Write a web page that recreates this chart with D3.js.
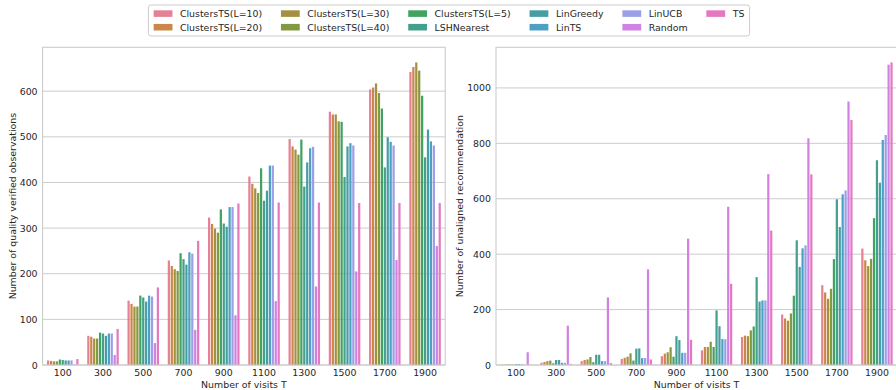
<!DOCTYPE html>
<html>
<head>
<meta charset="utf-8">
<script src="https://cdn.jsdelivr.net/npm/d3@7"></script>
<style>
  html, body { margin: 0; padding: 0; background: #ffffff; }
  svg text { font-family: "DejaVu Sans", sans-serif; fill: #262626; }
</style>
</head>
<body>
<svg id="chart" width="896" height="390"></svg>
<script>
// ---- categories and series ----
const visits = [100, 300, 500, 700, 900, 1100, 1300, 1500, 1700, 1900];
const seriesNames = [
  "ClustersTS(L=10)", "ClustersTS(L=20)", "ClustersTS(L=30)", "ClustersTS(L=40)",
  "ClustersTS(L=5)", "LSHNearest", "LinGreedy", "LinTS", "LinUCB", "Random", "TS"
];

// Number of quality verified observations, one array per method
const verifiedL10    = [10, 64, 141, 229, 323, 413, 495, 555, 604, 642];
const verifiedL20    = [9, 62, 134, 217, 309, 397, 479, 549, 608, 653];
const verifiedL30    = [8, 58, 128, 210, 299, 387, 472, 549, 617, 663];
const verifiedL40    = [8, 58, 128, 206, 290, 377, 461, 534, 596, 645];
const verifiedL5     = [12, 71, 152, 245, 341, 431, 494, 533, 562, 590];
const verifiedLSH    = [11, 69, 148, 232, 310, 360, 391, 412, 433, 455];
const verifiedGreedy = [10, 64, 139, 220, 303, 382, 444, 479, 499, 516];
const verifiedLinTS  = [10, 69, 152, 247, 346, 437, 475, 486, 489, 490];
const verifiedLinUCB = [10, 69, 150, 244, 346, 437, 478, 481, 481, 481];
const verifiedRandom = [1, 22, 48, 77, 109, 140, 172, 205, 230, 261];
const verifiedTS     = [13, 79, 170, 272, 354, 356, 356, 355, 355, 355];

// Number of unaligned recommendations, one array per method
const unalignedL10    = [1, 8, 14, 22, 32, 53, 101, 182, 288, 420];
const unalignedL20    = [1, 11, 18, 26, 41, 65, 106, 168, 262, 378];
const unalignedL30    = [2, 14, 20, 30, 46, 65, 104, 160, 239, 357];
const unalignedL40    = [2, 16, 29, 42, 64, 84, 125, 186, 275, 383];
const unalignedL5     = [1, 6, 10, 16, 30, 65, 139, 250, 382, 530];
const unalignedLSH    = [3, 18, 37, 59, 104, 197, 317, 450, 598, 739];
const unalignedGreedy = [3, 18, 37, 60, 90, 140, 229, 354, 498, 658];
const unalignedLinTS  = [2, 8, 14, 25, 44, 94, 233, 421, 616, 812];
const unalignedLinUCB = [1, 8, 14, 25, 44, 93, 233, 432, 630, 830];
const unalignedRandom = [46, 142, 244, 345, 456, 571, 689, 818, 951, 1084];
const unalignedTS     = [1, 4, 7, 20, 91, 293, 485, 688, 884, 1092];

const verifiedTicks  = [0, 100, 200, 300, 400, 500, 600];
const unalignedTicks = [0, 200, 400, 600, 800, 1000];

const verifiedSeries = [verifiedL10, verifiedL20, verifiedL30, verifiedL40, verifiedL5,
  verifiedLSH, verifiedGreedy, verifiedLinTS, verifiedLinUCB, verifiedRandom, verifiedTS];
const unalignedSeries = [unalignedL10, unalignedL20, unalignedL30, unalignedL40, unalignedL5,
  unalignedLSH, unalignedGreedy, unalignedLinTS, unalignedLinUCB, unalignedRandom, unalignedTS];

// ---- HUSL palette (seaborn "husl"), desaturated like seaborn bars ----
function huslToRgb(H, S, L) {
  const m = [[3.2406, -1.5372, -0.4986], [-0.9689, 1.8758, 0.0415], [0.0557, -0.2040, 1.0570]];
  const refU = 0.19784, refV = 0.46834, eps = 0.008856, kappa = 903.3;
  const hr = H * Math.PI / 180, sinH = Math.sin(hr), cosH = Math.cos(hr);
  const sub1 = Math.pow(L + 16, 3) / 1560896;
  const sub2 = sub1 > eps ? sub1 : L / kappa;
  let maxC = Infinity;
  for (const [m1, m2, m3] of m) {
    const top = (0.99915 * m1 + 1.05122 * m2 + 1.14460 * m3) * sub2;
    const rb = 0.86330 * m3 - 0.17266 * m2;
    const lb = 0.12949 * m3 - 0.38848 * m1;
    const bottom = (rb * sinH + lb * cosH) * sub2;
    for (const t of [0, 1]) {
      const C = L * (top - 1.05122 * t) / (bottom + 0.17266 * sinH * t);
      if (C > 0 && C < maxC) maxC = C;
    }
  }
  const C = maxC / 100 * S;
  const U = cosH * C, V = sinH * C;
  const t = (L + 16) / 116;
  const Y = Math.pow(t, 3) > eps ? Math.pow(t, 3) : (116 * t - 16) / kappa;
  const vU = U / (13 * L) + refU, vV = V / (13 * L) + refV;
  const X = -(9 * Y * vU) / ((vU - 4) * vV - vU * vV);
  const Z = (9 * Y - 15 * vV * Y - vV * X) / (3 * vV);
  const fromLinear = c => c <= 0.0031308 ? 12.92 * c : 1.055 * Math.pow(c, 1 / 2.4) - 0.055;
  return m.map(r => Math.max(0, Math.min(1, fromLinear(r[0] * X + r[1] * Y + r[2] * Z))));
}
function huslPalette(n) {
  return d3.range(n).map(i => {
    const h = ((i / n + 0.01) % 1) * 359;
    const [r, g, b] = huslToRgb(h, 0.9 * 99, 0.65 * 99);
    const c = d3.hsl(d3.rgb(r * 255, g * 255, b * 255));
    c.s *= 0.75;
    return c.formatHex();
  });
}
const colors = huslPalette(seriesNames.length);

// ---- drawing ----
const svg = d3.select("#chart");
const FONT = 9.4;
const GRID = "#cccccc";
const plotTop = 47.3, plotBottom = 365;

function drawPanel(cfg) {
  const g = svg.append("g");
  const x = d3.scaleBand().domain(visits).range([cfg.x0, cfg.x1]).paddingInner(0).paddingOuter(0);
  const bw = x.bandwidth();
  const xs = d3.scaleBand().domain(d3.range(seriesNames.length)).range([bw * 0.1, bw * 0.9]);
  const maxV = d3.max(cfg.series, s => d3.max(s));
  const y = d3.scaleLinear().domain([0, maxV * 1.05]).range([plotBottom, plotTop]);

  // horizontal grid
  g.append("g").selectAll("line").data(cfg.ticks).join("line")
    .attr("x1", cfg.x0).attr("x2", cfg.x1)
    .attr("y1", d => y(d)).attr("y2", d => y(d))
    .attr("stroke", GRID).attr("stroke-width", 1);

  // bars
  const sw = xs.bandwidth();
  cfg.series.forEach((vals, si) => {
    g.append("g").selectAll("rect").data(vals).join("rect")
      .attr("x", (d, i) => x(visits[i]) + xs(si) + 0.35)
      .attr("width", Math.max(0.5, sw - 0.7))
      .attr("y", d => y(d))
      .attr("height", d => plotBottom - y(d))
      .attr("fill", colors[si]);
  });

  // frame
  g.append("rect")
    .attr("x", cfg.x0).attr("y", plotTop)
    .attr("width", cfg.x1 - cfg.x0).attr("height", plotBottom - plotTop)
    .attr("fill", "none").attr("stroke", GRID).attr("stroke-width", 1.1);

  // y axis
  const ya = d3.axisLeft(y).tickValues(cfg.ticks).tickFormat(d3.format("d")).tickSize(0).tickPadding(5);
  const yg = g.append("g").attr("transform", `translate(${cfg.x0},0)`).call(ya);
  yg.select(".domain").remove();
  yg.selectAll("text").style("font-size", FONT + "px").attr("fill", "#262626");

  // x axis
  const xa = d3.axisBottom(x).tickSize(0).tickPadding(4.5);
  const xg = g.append("g").attr("transform", `translate(0,${plotBottom})`).call(xa);
  xg.select(".domain").remove();
  xg.selectAll("text").style("font-size", FONT + "px").attr("fill", "#262626");

  // axis titles
  g.append("text")
    .attr("x", (cfg.x0 + cfg.x1) / 2).attr("y", 387.5)
    .attr("text-anchor", "middle").style("font-size", FONT + "px")
    .text("Number of visits T");
  g.append("text")
    .attr("transform", `translate(${cfg.labelX},${(plotTop + plotBottom) / 2}) rotate(-90)`)
    .attr("text-anchor", "middle").style("font-size", FONT + "px")
    .text(cfg.yLabel);
}

drawPanel({
  x0: 42.6, x1: 445.2, series: verifiedSeries, ticks: verifiedTicks,
  yLabel: "Number of quality verified observations", labelX: 16
});
drawPanel({
  x0: 496, x1: 897, series: unalignedSeries, ticks: unalignedTicks,
  yLabel: "Number of unaligned recommendation", labelX: 463
});

// ---- legend: 6 columns, 2 rows, filled column by column ----
const leg = svg.append("g");
const em = FONT;
const handleW = 2.0 * em, handleH = 0.7 * em, textPad = 0.8 * em, colSpace = 2.0 * em, border = 0.45 * em;
const rowY = [13.6, 27.2];
const nCols = Math.ceil(seriesNames.length / 2);

const measure = leg.append("text").style("font-size", FONT + "px");
const widths = seriesNames.map(n => { measure.text(n); return measure.node().getComputedTextLength(); });
measure.remove();

const colWidths = d3.range(nCols).map(c => d3.max([2 * c, 2 * c + 1].filter(i => i < seriesNames.length), i => widths[i]));
const contentW = d3.sum(colWidths, w => handleW + textPad + w) + colSpace * (nCols - 1);
const boxW = contentW + 2 * border + 2;
const boxX = 449 - boxW / 2;

leg.append("rect")
  .attr("x", boxX).attr("y", 5).attr("width", boxW).attr("height", 31)
  .attr("rx", 2.5).attr("fill", "#ffffff").attr("fill-opacity", 0.8)
  .attr("stroke", GRID).attr("stroke-width", 1);

let cx = boxX + border + 1;
colWidths.forEach((cw, c) => {
  [0, 1].forEach(r => {
    const i = 2 * c + r;
    if (i >= seriesNames.length) return;
    leg.append("rect")
      .attr("x", cx).attr("y", rowY[r] - handleH / 2)
      .attr("width", handleW).attr("height", handleH)
      .attr("fill", colors[i]);
    leg.append("text")
      .attr("x", cx + handleW + textPad).attr("y", rowY[r])
      .attr("dominant-baseline", "central")
      .style("font-size", FONT + "px")
      .text(seriesNames[i]);
  });
  cx += handleW + textPad + cw + colSpace;
});
</script>
</body>
</html>
